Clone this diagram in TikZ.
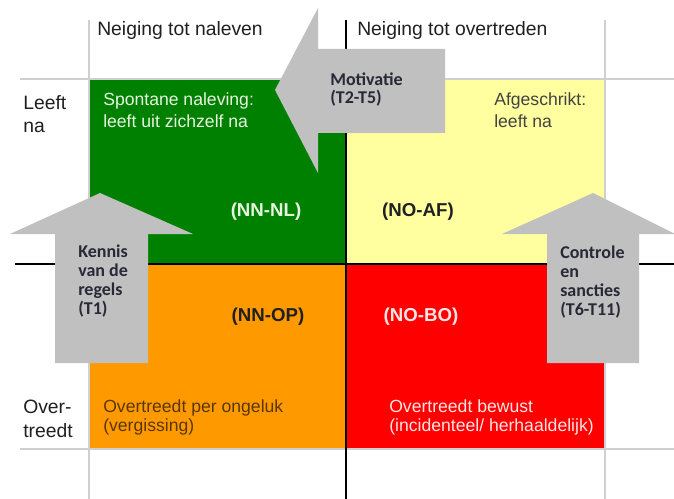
\documentclass[tikz,border=0pt]{standalone}
\usepackage{fontspec}
\setmainfont{Liberation Sans}
\newfontfamily\arrowfont{Carlito}
\definecolor{qgreen}{RGB}{0,128,0}
\definecolor{qyellow}{RGB}{255,255,160}
\definecolor{qorange}{RGB}{255,153,0}
\definecolor{qred}{RGB}{255,0,0}
\definecolor{qgray}{RGB}{192,192,192}
\definecolor{qline}{RGB}{208,208,208}
\definecolor{qdark}{RGB}{32,32,32}
\definecolor{qbrown}{RGB}{90,55,0}
\definecolor{qpale}{RGB}{232,245,225}
\definecolor{qpink}{RGB}{255,228,228}
\definecolor{qarrowtxt}{RGB}{40,40,55}
\begin{document}
\begin{tikzpicture}[x=0.75pt,y=-0.75pt,
  lbl/.style={anchor=base west,inner sep=0pt,font=\fontsize{14.5}{17}\selectfont,text=qdark},
  cell/.style={anchor=base west,inner sep=0pt,font=\fontsize{13.2}{16}\selectfont},
  code/.style={anchor=base,inner sep=0pt,font=\fontsize{14}{17}\selectfont\bfseries},
  arrtxt/.style={anchor=base west,inner sep=0pt,font=\fontsize{13.5}{16}\selectfont\arrowfont\bfseries,text=qarrowtxt},
  grid/.style={draw=qline,line width=0.9pt},
  axis/.style={draw=black,line width=1.6pt},
  bigarrow/.style={fill=qgray}]
\useasboundingbox (0,0) rectangle (674,499);
\fill[white] (0,0) rectangle (674,499);
% quadrants
\fill[qgreen]  (89,79)  rectangle (346,264);
\fill[qyellow] (346,79) rectangle (605,264);
\fill[qorange] (89,264) rectangle (346,449);
\fill[qred]    (346,264) rectangle (605,449);
% grid lines
\draw[grid] (89,20) -- (89,499);
\draw[grid] (605,20) -- (605,499);
\draw[grid] (20,79) -- (674,79);
\draw[grid] (20,449) -- (674,449);
% axes
\draw[axis] (346,20) -- (346,499);
\draw[axis] (15,264) -- (674,264);
% big arrows
\fill[bigarrow] (445,49) -- (318,49) -- (318,8) -- (275,90) -- (318,173) -- (318,133) -- (445,133) -- cycle;
\fill[bigarrow] (100,193) -- (193,234) -- (148,234) -- (148,363) -- (55,363) -- (55,234) -- (10,234) -- cycle;
\fill[bigarrow] (593,193) -- (675,234) -- (639,234) -- (639,363) -- (547,363) -- (547,234) -- (502,234) -- cycle;
% headers
\node[lbl] (h1) at (97,36) {Neiging tot naleven};
\node[lbl] (h2) at (357,36) {Neiging tot overtreden};
\node[lbl] (r1a) at (23,110) {Leeft};
\node[lbl] (r1b) at (23,133) {na};
\node[lbl] (r2a) at (23,413) {Over-};
\node[lbl] (r2b) at (23,437) {treedt};
% cell texts
\node[cell,text=qpale] (g1) at (103,106) {Spontane naleving:};
\node[cell,text=qpale] (g2) at (103,128) {leeft uit zichzelf na};
\node[cell,text=qdark!85] (y1) at (494,106) {Afgeschrikt:};
\node[cell,text=qdark!85] (y2) at (494,128) {leeft na};
\node[cell,text=qbrown] (o1) at (103,412) {Overtreedt per ongeluk};
\node[cell,text=qbrown] (o2) at (103,431) {(vergissing)};
\node[cell,text=qpink] (rd1) at (389,412) {Overtreedt bewust};
\node[cell,text=qpink] (rd2) at (389,431) {(incidenteel/ herhaaldelijk)};
% codes
\node[code,text=qpale] (nnnl) at (266,216) {(NN-NL)};
\node[code,text=qdark] (noaf) at (418,216) {(NO-AF)};
\node[code,text=qdark] (nnop) at (268,321) {(NN-OP)};
\node[code,text=qpink] (nobo) at (421,321) {(NO-BO)};
% arrow texts
\node[arrtxt] (m1) at (330,86) {Motivatie};
\node[arrtxt] (m2) at (330,104) {(T2-T5)};
\node[arrtxt] (k1) at (78,257) {Kennis};
\node[arrtxt] (k2) at (78,276) {van de};
\node[arrtxt] (k3) at (78,295) {regels};
\node[arrtxt] (k4) at (78,314) {(T1)};
\node[arrtxt] (c1) at (560,258) {Controle};
\node[arrtxt] (c2) at (560,277) {en};
\node[arrtxt] (c3) at (560,296) {sancties};
\node[arrtxt] (c4) at (560,315) {(T6-T11)};
\end{tikzpicture}
\end{document}
